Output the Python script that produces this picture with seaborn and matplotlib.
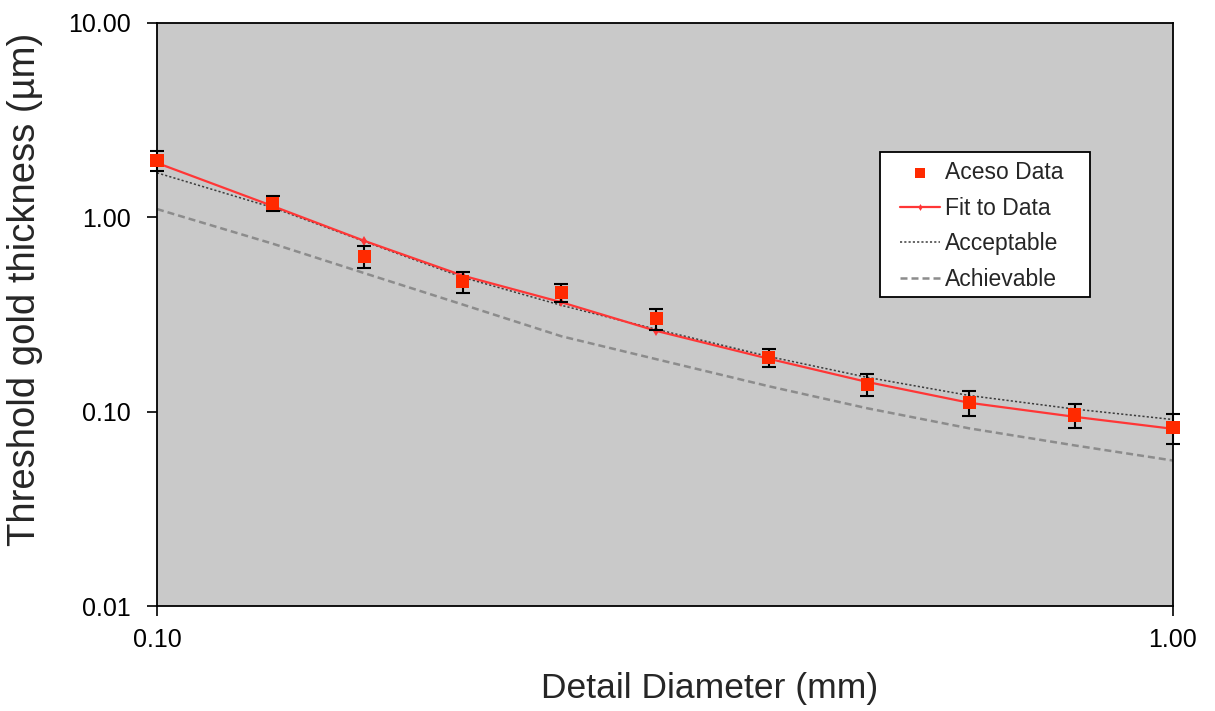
import matplotlib
matplotlib.use("Agg")
import matplotlib.pyplot as plt
import seaborn as sns
from matplotlib.patches import Rectangle
from matplotlib.ticker import FixedLocator, FuncFormatter, NullLocator

# detail diameters (mm) and thresholds (um)
diameter = [0.10, 0.13, 0.16, 0.20, 0.25, 0.31, 0.40, 0.50, 0.63, 0.80, 1.00]
aceso = [1.95, 1.18, 0.63, 0.465, 0.41, 0.30, 0.19, 0.138, 0.111, 0.096, 0.083]
aceso_err = [0.23, 0.10, 0.08, 0.057, 0.045, 0.036, 0.021, 0.018, 0.016, 0.0135, 0.0145]
fit = [1.90, 1.14, 0.755, 0.50, 0.365, 0.26, 0.187, 0.142, 0.111, 0.094, 0.0815]
acceptable = [1.69, 1.12, 0.75, 0.49, 0.352, 0.265, 0.192, 0.150, 0.121, 0.103, 0.091]
achievable = [1.10, 0.73, 0.515, 0.355, 0.244, 0.186, 0.135, 0.104, 0.082, 0.067, 0.056]

sns.set_style("ticks")
plt.rcParams["font.family"] = ["Liberation Sans", "DejaVu Sans"]

W, H = 1215, 711
fig, ax = plt.subplots(figsize=(W / 100, H / 100), dpi=100)
fig.subplots_adjust(left=157 / W, right=1173 / W,
                    bottom=1 - 606 / H, top=1 - 22.7 / H)
ax.set_facecolor("#c9c9c9")

sns.lineplot(x=diameter, y=achievable, ax=ax, color="#8c8c8c", lw=1.8,
             linestyle=(0, (2.8, 1.6)), label="Achievable")
sns.lineplot(x=diameter, y=acceptable, ax=ax, color="#3c3c3c", lw=1.1,
             linestyle=(0, (1.4, 1.4)), label="Acceptable")
sns.lineplot(x=diameter, y=fit, ax=ax, color="#ff3636", lw=1.6,
             marker="d", markersize=5, markeredgewidth=0, label="Fit to Data")
ax.errorbar(diameter, aceso, yerr=aceso_err, fmt="none", ecolor="black",
            elinewidth=1.5, capsize=5, capthick=1.5, zorder=4, clip_on=False)
sns.scatterplot(x=diameter, y=aceso, ax=ax, marker="s", s=90,
                color="#ff2a00", edgecolor="none", label="Aceso Data",
                zorder=5, clip_on=False)

ax.set_xscale("log")
ax.set_yscale("log")
ax.set_xlim(0.1, 1.0)
ax.set_ylim(0.01, 10)

fmt = FuncFormatter(lambda v, _: f"{v:.2f}")
ax.xaxis.set_major_locator(FixedLocator([0.1, 1.0]))
ax.yaxis.set_major_locator(FixedLocator([0.01, 0.1, 1.0, 10.0]))
ax.xaxis.set_minor_locator(NullLocator())
ax.yaxis.set_minor_locator(NullLocator())
ax.xaxis.set_major_formatter(fmt)
ax.yaxis.set_major_formatter(fmt)
ax.tick_params(axis="both", direction="out", length=7, width=1.2,
               labelsize=18, colors="black")
ax.tick_params(axis="y", pad=12)
ax.tick_params(axis="x", pad=9)

for side in ax.spines.values():
    side.set_color("black")
    side.set_linewidth(1.3)

ax.set_xlabel("Detail Diameter (mm)", fontsize=25.5)
ax.xaxis.set_label_coords(0.544, -0.114)
ax.set_ylabel("Threshold gold thickness (µm)", fontsize=27.5)
ax.yaxis.set_label_coords(-0.112, 0.5435)

# legend box drawn separately (Excel-style wide padding)
ax.add_patch(Rectangle((880 / W, 1 - 297 / H), 210 / W, 145 / H,
                       transform=fig.transFigure, facecolor="white",
                       edgecolor="black", linewidth=1.3, zorder=6,
                       clip_on=False))

handles, labels = ax.get_legend_handles_labels()
order = ["Aceso Data", "Fit to Data", "Acceptable", "Achievable"]
lookup = dict(zip(labels, handles))
leg = ax.legend([lookup[k] for k in order], order, loc="upper left",
                bbox_to_anchor=(0.7313, 0.7629), borderaxespad=0,
                fontsize=16.5, frameon=False, handlelength=1.75,
                handletextpad=0.2, labelspacing=0.55, borderpad=0,
                markerscale=0.7)
leg.set_zorder(7)

fig.savefig("out.png", dpi=100)
